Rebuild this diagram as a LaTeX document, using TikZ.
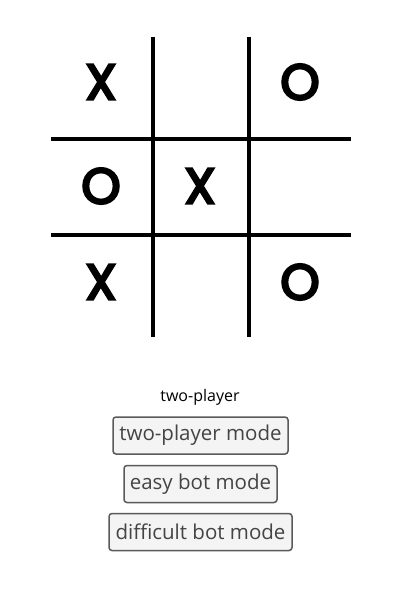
\documentclass[tikz,border=0pt]{standalone}
\usepackage{fontspec}
\setmainfont{Open Sans}
\newfontfamily\markfont{Poppins}[FakeBold=5]
\definecolor{btnfill}{HTML}{F4F4F4}
\definecolor{btnline}{HTML}{5A5A5A}
\definecolor{btntext}{HTML}{444444}
\begin{document}
\begin{tikzpicture}[x=1pt,y=-1pt,
  gridline/.style={line width=4pt,black},
  xomark/.style={font=\markfont\fontsize{50}{50}\selectfont, inner sep=0pt, anchor=center},
  btn/.style={draw=btnline, fill=btnfill, line width=1.5pt, rounded corners=3pt,
    text=btntext, font=\fontsize{20.5}{20.5}\selectfont, minimum height=37pt, inner sep=0pt, anchor=center}]
\useasboundingbox (0,0) rectangle (400,600);
\fill[white] (0,0) rectangle (400,600);
% grid
\coordinate (v1t) at (153,37); \coordinate (v1b) at (153,337);
\coordinate (v2t) at (249,37); \coordinate (v2b) at (249,337);
\coordinate (h1l) at (51,139); \coordinate (h1r) at (351,139);
\coordinate (h2l) at (51,235); \coordinate (h2r) at (351,235);
\draw[gridline] (v1t) -- (v1b);
\draw[gridline] (v2t) -- (v2b);
\draw[gridline] (h1l) -- (h1r);
\draw[gridline] (h2l) -- (h2r);
% marks
\node[xomark] (c11) at (101,82) {X};
\node[xomark] (c13) at (300,82) {O};
\node[xomark] (c21) at (101,186) {O};
\node[xomark] (c22) at (200,186) {X};
\node[xomark] (c31) at (101,282) {X};
\node[xomark] (c33) at (300,282) {O};
% status and buttons
\node[font=\fontsize{16}{16}\selectfont, anchor=center] (status) at (200,397) {two-player};
\node[btn, minimum width=175pt] (b1) at (200.5,435.5) {two-player mode};
\node[btn, minimum width=153pt] (b2) at (200.5,484) {easy bot mode};
\node[btn, minimum width=183pt] (b3) at (200.5,532) {difficult bot mode};
\end{tikzpicture}
\end{document}
